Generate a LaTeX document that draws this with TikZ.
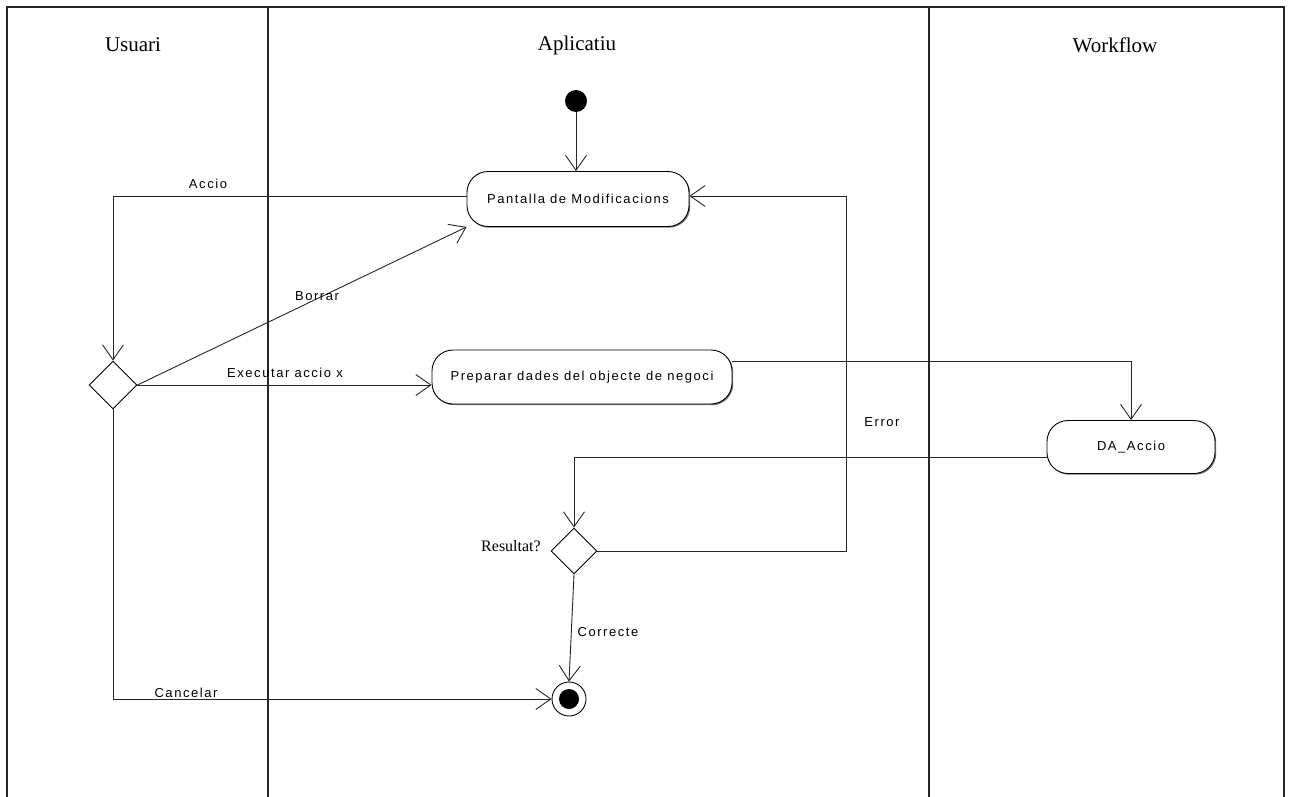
\documentclass[tikz,border=0pt]{standalone}
\usepackage{fontspec}
\setmainfont{Liberation Serif}
\setsansfont{Liberation Sans}
\newfontfamily\lblfont[LetterSpace=12]{Liberation Sans}
\usetikzlibrary{arrows.meta,shapes.geometric,shadows,calc}
\begin{document}
\begin{tikzpicture}[x=1pt,y=-1pt,
  lane/.style={line width=1.6pt,black!85},
  edge/.style={line width=0.9pt,black!85},
  arr/.style={edge,-{Straight Barb[length=15pt,width=21pt,line width=0.9pt]}},
  activity/.style={draw,line width=0.9pt,rounded corners=21pt,fill=white,
     font=\lblfont\fontsize{13}{15}\selectfont,inner sep=0pt,
     drop shadow={shadow xshift=1.2pt,shadow yshift=-1.2pt,fill=black!55,opacity=1}},
  decision/.style={draw,diamond,line width=0.9pt,fill=white,inner sep=0pt,aspect=1},
  elabel/.style={font=\lblfont\fontsize{13}{15}\selectfont,inner sep=0pt},
  header/.style={font=\fontsize{21}{24}\selectfont,inner sep=0pt}
]
\useasboundingbox (0,0) rectangle (1292,797);
% swimlanes
\draw[lane] (7,797) -- (7,7) -- (1284,7) -- (1284,797);
\draw[lane] (268,7) -- (268,797);
\draw[lane] (929,7) -- (929,797);
\node[header] (hU) at (133,45) {Usuari};
\node[header] (hA) at (577,45) {Aplicatiu};
\node[header] (hW) at (1115,45) {Workflow};

% nodes
\node[circle,fill=black,minimum size=22pt,inner sep=0pt] (init) at (576,101) {};
\node[activity,minimum width=222pt,minimum height=55pt] (pant) at (578,199) {Pantalla de Modificacions};
\node[activity,minimum width=300pt,minimum height=54pt] (prep) at (582,377) {Preparar dades del objecte de negoci};
\node[activity,minimum width=168pt,minimum height=53pt] (da) at (1131,447) {DA\_Accio};
\node[decision,minimum size=48pt] (d1) at (113,385) {};
\node[decision,minimum size=46pt] (d2) at (574,551) {};
\node[circle,draw,line width=0.9pt,fill=white,minimum size=34pt,inner sep=0pt] (fin) at (569,699) {};
\node[circle,fill=black,minimum size=20pt,inner sep=0pt] (finin) at (fin.center) {};
\node[font=\fontsize{16}{18}\selectfont,inner sep=0pt] (res) at (511,546) {Resultat?};

% edges
\draw[arr] (init) -- (init |- pant.north);
\draw[arr] ([yshift=3pt]pant.west) -| (d1.north);
\draw[arr] (d1.east) -- (pant.south west);
\draw[arr] (d1.east) -- (d1.east -| prep.west);
\draw[arr] ([yshift=16pt]prep.east) -| (da.north);
\draw[arr] ([yshift=-10pt]da.west) -| (d2.north);
\draw[arr] (d2.east) -- ++(249,0) |- ([yshift=3pt]pant.east);
\draw[arr] (d2.south) -- (fin.north);
\draw[arr] (d1.south) |- (fin.west);

% edge labels
\node[elabel] (lAccio) at (208,184) {Accio};
\node[elabel] (lBorrar) at (317,296) {Borrar};
\node[elabel] (lExec) at (285,373) {Executar accio x};
\node[elabel] (lError) at (882,422) {Error};
\node[elabel] (lCorr) at (608,632) {Correcte};
\node[elabel] (lCanc) at (186,693) {Cancelar};
\end{tikzpicture}
\end{document}
